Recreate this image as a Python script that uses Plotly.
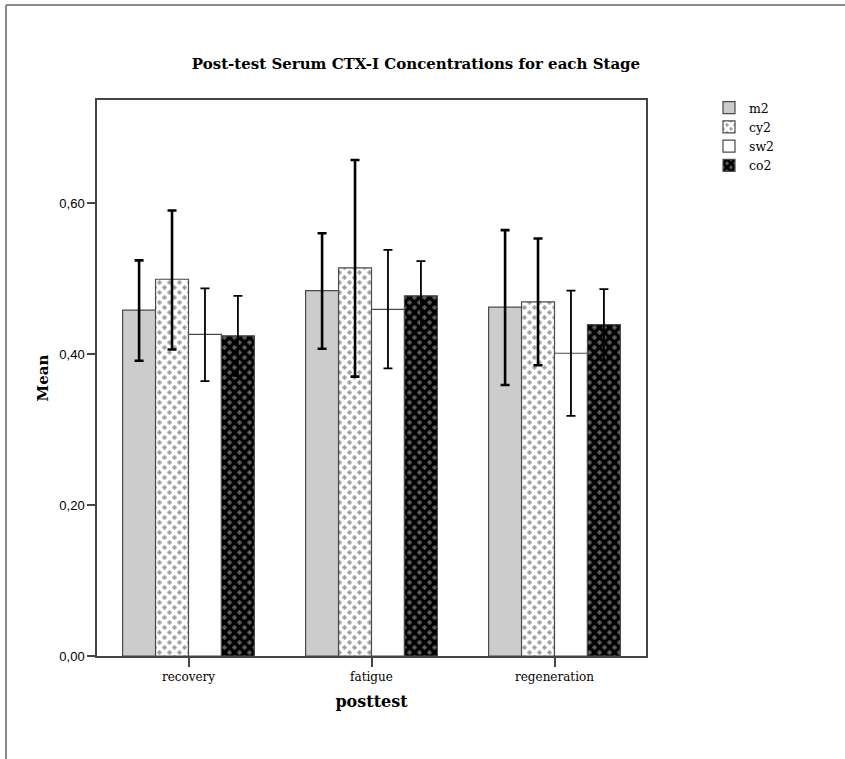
import plotly.graph_objects as go

# Stages on the x axis and the four measures plotted for each
stages = ["recovery", "fatigue", "regeneration"]
series_names = ["m2", "cy2", "sw2", "co2"]

# Means of serum CTX-I per stage
mean_m2 = [0.458, 0.484, 0.462]
mean_cy2 = [0.499, 0.514, 0.469]
mean_sw2 = [0.426, 0.459, 0.401]
mean_co2 = [0.424, 0.477, 0.439]

# Upper / lower bounds of the 95% confidence intervals
upper_m2 = [0.524, 0.560, 0.564]
lower_m2 = [0.391, 0.407, 0.359]
upper_cy2 = [0.590, 0.657, 0.553]
lower_cy2 = [0.406, 0.370, 0.385]
upper_sw2 = [0.487, 0.538, 0.484]
lower_sw2 = [0.364, 0.381, 0.318]
upper_co2 = [0.477, 0.523, 0.486]
lower_co2 = [0.371, 0.431, 0.392]

means = [mean_m2, mean_cy2, mean_sw2, mean_co2]
uppers = [upper_m2, upper_cy2, upper_sw2, upper_co2]
lowers = [lower_m2, lower_cy2, lower_sw2, lower_co2]

styles = [
    dict(color="#cccccc", pattern=dict(shape="")),
    dict(color="white", pattern=dict(shape="+", fgcolor="#3a3a3a", bgcolor="white",
                                     size=10, solidity=0.15, fillmode="overlay")),
    dict(color="white", pattern=dict(shape="")),
    dict(color="black", pattern=dict(shape="+", fgcolor="#c4c4c4", bgcolor="black",
                                     size=10, solidity=0.15, fillmode="overlay")),
]
err_widths = [2.6, 2.6, 1.8, 1.8]

fig = go.Figure()
for name, m, up, lo, st, ew in zip(series_names, means, uppers, lowers, styles, err_widths):
    fig.add_trace(go.Bar(
        name=name, x=stages, y=m,
        marker=dict(color=st["color"], pattern=st["pattern"],
                    line=dict(color="#4a4a4a", width=1.2)),
        error_y=dict(type="data", symmetric=False,
                     array=[u - v for u, v in zip(up, m)],
                     arrayminus=[v - l for l, v in zip(lo, m)],
                     color="black", thickness=ew, width=4.5),
    ))

W, H = 845, 759
L, R, T, B = 97, 646, 100, 656


def px_x(px):
    return (px - L) / (R - L)


def px_y(py):
    return (B - py) / (B - T)


serif = "DejaVu Serif"

fig.update_layout(
    width=W, height=H,
    margin=dict(l=L, r=W - R, t=T, b=H - B),
    paper_bgcolor="white", plot_bgcolor="white",
    separators=",.",
    barmode="group", bargap=0.28, bargroupgap=0,
    title=dict(text="<b>Post-test Serum CTX-I Concentrations for each Stage</b>",
               x=416 / W, xref="container", xanchor="center",
               y=1 - 64 / H, yref="container", yanchor="middle",
               font=dict(family=serif, size=15, color="black")),
    legend=dict(x=px_x(709), y=px_y(93), xanchor="left", yanchor="top",
                font=dict(family=serif, size=12.5, color="black"),
                tracegroupgap=0, itemwidth=30, bgcolor="rgba(0,0,0,0)"),
    showlegend=True,
    shapes=[
        dict(type="line", xref="paper", yref="paper",
             x0=px_x(6), x1=px_x(845), y0=px_y(5), y1=px_y(5),
             line=dict(color="#8a8a8a", width=2)),
        dict(type="line", xref="paper", yref="paper",
             x0=px_x(6), x1=px_x(6), y0=px_y(5), y1=px_y(759),
             line=dict(color="#8a8a8a", width=2)),
    ],
)

fig.update_xaxes(
    showgrid=False, showline=True, linecolor="#444444", linewidth=1.5, mirror=True,
    ticks="outside", ticklen=9, tickwidth=1.5, tickcolor="#444444",
    tickfont=dict(family=serif, size=12, color="black"),
    title=dict(text="<b>posttest</b>", font=dict(family=serif, size=16, color="black"),
               standoff=13),
)
fig.update_yaxes(
    range=[0, 0.7364], tickvals=[0, 0.2, 0.4, 0.6], tickformat=".2f",
    showgrid=False, zeroline=False, showline=True, linecolor="#444444", linewidth=1.5,
    mirror=True, ticks="outside", ticklen=8, tickwidth=1.5, tickcolor="#444444",
    tickfont=dict(family="Liberation Sans", size=13, color="black"),
    title=dict(text="<b>Mean</b>", font=dict(family=serif, size=15, color="black"),
               standoff=7),
)

# Turn the "+" grid fill into small, staggered plus signs
cross_js = """
var gd = document.getElementById('{plot_id}');
function crossTiles() {
  gd.querySelectorAll('pattern').forEach(function (pat) {
    var w = parseFloat(pat.getAttribute('width'));
    var h = parseFloat(pat.getAttribute('height'));
    var a = w * 0.22, d = '';
    [[w * 0.25, h * 0.25], [w * 0.75, h * 0.75]].forEach(function (c) {
      d += 'M' + (c[0] - a) + ',' + c[1] + 'H' + (c[0] + a) +
           'M' + c[0] + ',' + (c[1] - a) + 'V' + (c[1] + a);
    });
    pat.querySelectorAll('path').forEach(function (p) {
      p.setAttribute('d', d);
      p.setAttribute('stroke-width', '1.8px');
      p.style.strokeWidth = '1.8px';
    });
  });
}
crossTiles();
gd.on('plotly_afterplot', crossTiles);
"""

fig.write_html("out.html", post_script=cross_js)
